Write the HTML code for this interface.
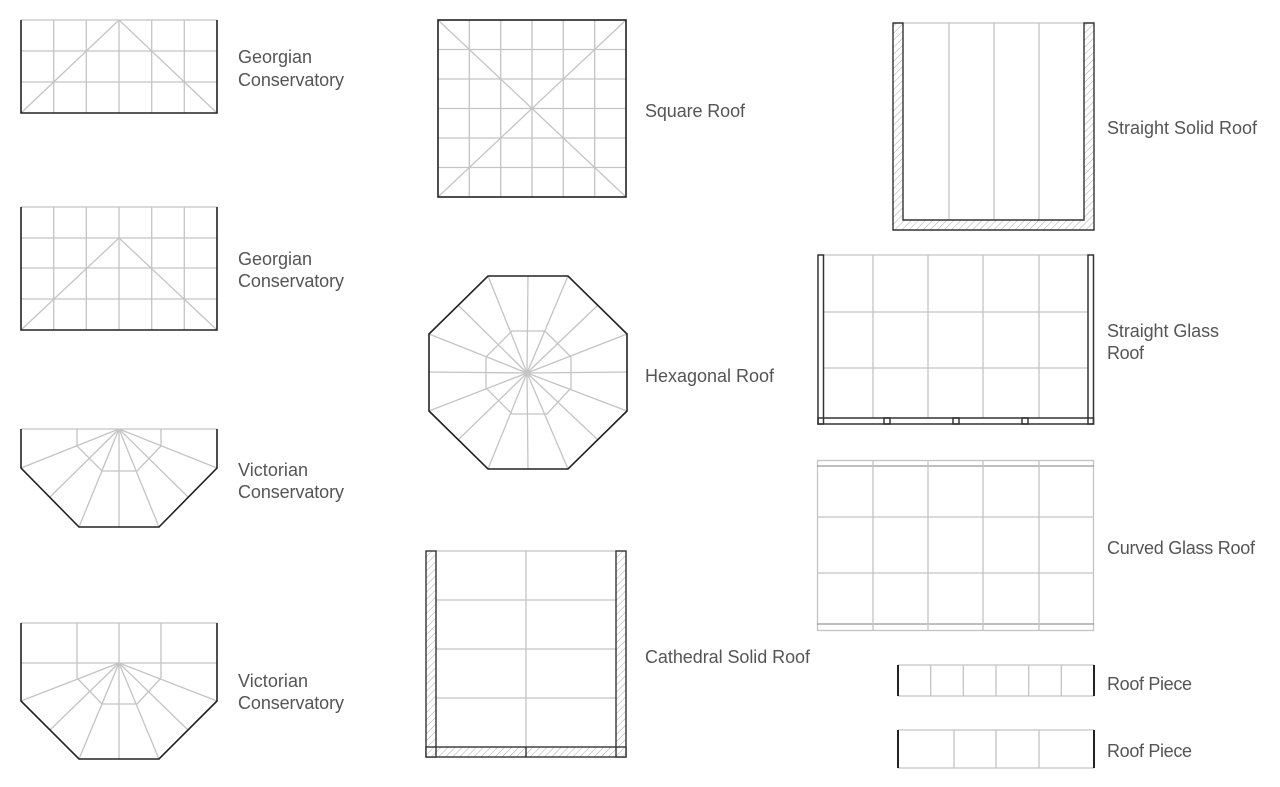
<!DOCTYPE html>
<html><head><meta charset="utf-8"><style>html,body{margin:0;padding:0;background:#fff}svg{display:block}</style></head>
<body>
<svg width="1280" height="787" viewBox="0 0 1280 787" xmlns="http://www.w3.org/2000/svg">
<defs>
<pattern id="h" width="5" height="5" patternUnits="userSpaceOnUse" patternTransform="rotate(45)">
<rect width="5" height="5" fill="#fff"/><line x1="0" y1="0" x2="0" y2="5" stroke="#aaa" stroke-width="1"/>
</pattern>
</defs>
<g fill="none" stroke="#c4c4c4" stroke-width="1.3">
<line x1="21" y1="20" x2="217" y2="20"/>
<line x1="21" y1="51" x2="217" y2="51"/><line x1="21" y1="82" x2="217" y2="82"/>
<line x1="53.7" y1="20" x2="53.7" y2="113"/><line x1="86.3" y1="20" x2="86.3" y2="113"/><line x1="119" y1="20" x2="119" y2="113"/><line x1="151.7" y1="20" x2="151.7" y2="113"/><line x1="184.3" y1="20" x2="184.3" y2="113"/>
<polyline points="21,113 119,20 217,113"/>
<line x1="21" y1="207" x2="217" y2="207"/>
<line x1="21" y1="238" x2="217" y2="238"/><line x1="21" y1="268" x2="217" y2="268"/><line x1="21" y1="299" x2="217" y2="299"/>
<line x1="53.7" y1="207" x2="53.7" y2="330"/><line x1="86.3" y1="207" x2="86.3" y2="330"/><line x1="119" y1="207" x2="119" y2="330"/><line x1="151.7" y1="207" x2="151.7" y2="330"/><line x1="184.3" y1="207" x2="184.3" y2="330"/>
<polyline points="21,330 119,238 217,330"/>
<line x1="21" y1="429" x2="217" y2="429"/>
<line x1="77" y1="429" x2="77" y2="446"/><line x1="161" y1="429" x2="161" y2="446"/>
<polyline points="77,446 102,471 137,471 161,446"/>
<line x1="119" y1="429" x2="21" y2="468"/><line x1="119" y1="429" x2="217" y2="468"/>
<line x1="119" y1="429" x2="50" y2="497"/><line x1="119" y1="429" x2="188" y2="497"/>
<line x1="119" y1="429" x2="79" y2="527"/><line x1="119" y1="429" x2="159" y2="527"/>
<line x1="119" y1="429" x2="119" y2="527"/>
<line x1="21" y1="623" x2="217" y2="623"/>
<line x1="21" y1="663" x2="217" y2="663"/>
<line x1="77" y1="623" x2="77" y2="678"/><line x1="161" y1="623" x2="161" y2="678"/>
<line x1="119" y1="623" x2="119" y2="759"/>
<polyline points="77,678 102,704 137,704 161,678"/>
<line x1="119" y1="663" x2="21" y2="701"/><line x1="119" y1="663" x2="217" y2="701"/>
<line x1="119" y1="663" x2="50" y2="730"/><line x1="119" y1="663" x2="188" y2="730"/>
<line x1="119" y1="663" x2="79" y2="759"/><line x1="119" y1="663" x2="159" y2="759"/>
<line x1="469.3" y1="20" x2="469.3" y2="197"/><line x1="500.7" y1="20" x2="500.7" y2="197"/><line x1="532" y1="20" x2="532" y2="197"/><line x1="563.3" y1="20" x2="563.3" y2="197"/><line x1="594.7" y1="20" x2="594.7" y2="197"/>
<line x1="438" y1="49.5" x2="626" y2="49.5"/><line x1="438" y1="79" x2="626" y2="79"/><line x1="438" y1="108.5" x2="626" y2="108.5"/><line x1="438" y1="138" x2="626" y2="138"/><line x1="438" y1="167.5" x2="626" y2="167.5"/>
<line x1="438" y1="20" x2="626" y2="197"/><line x1="626" y1="20" x2="438" y2="197"/>
<polygon points="512,331 545,331 571,357 571,388 547,414 512,414 486,388 486,357"/>
<line x1="527" y1="373" x2="488" y2="276"/><line x1="527" y1="373" x2="528" y2="276"/><line x1="527" y1="373" x2="568" y2="276"/>
<line x1="527" y1="373" x2="598" y2="305"/><line x1="527" y1="373" x2="627" y2="334"/><line x1="527" y1="373" x2="627" y2="372"/>
<line x1="527" y1="373" x2="627" y2="411"/><line x1="527" y1="373" x2="598" y2="440"/><line x1="527" y1="373" x2="568" y2="469"/>
<line x1="527" y1="373" x2="528" y2="469"/><line x1="527" y1="373" x2="488" y2="469"/><line x1="527" y1="373" x2="458" y2="440"/>
<line x1="527" y1="373" x2="429" y2="411"/><line x1="527" y1="373" x2="429" y2="372"/><line x1="527" y1="373" x2="429" y2="334"/><line x1="527" y1="373" x2="458" y2="305"/>
<line x1="436" y1="551" x2="616" y2="551"/>
<line x1="526" y1="551" x2="526" y2="747"/>
<line x1="436" y1="600" x2="616" y2="600"/><line x1="436" y1="649" x2="616" y2="649"/><line x1="436" y1="698" x2="616" y2="698"/>
<line x1="903" y1="23" x2="1084" y2="23"/>
<line x1="949" y1="23" x2="949" y2="220"/><line x1="994" y1="23" x2="994" y2="220"/><line x1="1039" y1="23" x2="1039" y2="220"/>
<line x1="823" y1="255" x2="1088" y2="255"/>
<line x1="873" y1="255" x2="873" y2="418"/><line x1="928" y1="255" x2="928" y2="418"/><line x1="983" y1="255" x2="983" y2="418"/><line x1="1039" y1="255" x2="1039" y2="418"/>
<line x1="823" y1="312" x2="1088" y2="312"/><line x1="823" y1="368" x2="1088" y2="368"/>
<rect x="817.5" y="460.5" width="276" height="170"/>
<line x1="817" y1="466" x2="1094" y2="466" stroke="#999"/><line x1="817" y1="624" x2="1094" y2="624" stroke="#999"/>
<line x1="873" y1="460" x2="873" y2="630"/><line x1="928" y1="460" x2="928" y2="630"/><line x1="983" y1="460" x2="983" y2="630"/><line x1="1039" y1="460" x2="1039" y2="630"/>
<line x1="817" y1="517" x2="1094" y2="517"/><line x1="817" y1="573" x2="1094" y2="573"/>
<line x1="898" y1="665" x2="1094" y2="665"/><line x1="898" y1="696" x2="1094" y2="696"/>
<line x1="930.7" y1="665" x2="930.7" y2="696"/><line x1="963.3" y1="665" x2="963.3" y2="696"/><line x1="996" y1="665" x2="996" y2="696"/><line x1="1028.7" y1="665" x2="1028.7" y2="696"/><line x1="1061.3" y1="665" x2="1061.3" y2="696"/>
<line x1="898" y1="730" x2="1094" y2="730"/><line x1="898" y1="768" x2="1094" y2="768"/>
<line x1="954" y1="730" x2="954" y2="768"/><line x1="996" y1="730" x2="996" y2="768"/><line x1="1039" y1="730" x2="1039" y2="768"/>
</g>
<g fill="none" stroke="#222" stroke-width="1.6">
<polyline points="21,20 21,113 217,113 217,20"/>
<polyline points="21,207 21,330 217,330 217,207"/>
<polyline points="21,429 21,468 79,527 159,527 217,468 217,429"/>
<polyline points="21,623 21,701 79,759 159,759 217,701 217,623"/>
<rect x="438" y="20" width="188" height="177"/>
<polygon points="488,276 568,276 627,334 627,411 568,469 488,469 429,411 429,334"/>
</g>
<g stroke="#333" stroke-width="1.4" fill="url(#h)">
<rect x="426" y="551" width="10" height="206"/>
<rect x="616" y="551" width="10" height="206"/>
<rect x="426" y="747" width="200" height="10"/>
<line x1="526" y1="747" x2="526" y2="757"/>
<line x1="436" y1="747" x2="436" y2="757"/><line x1="616" y1="747" x2="616" y2="757"/>
<polygon points="893,23 903,23 903,220 1084,220 1084,23 1094,23 1094,230 893,230"/>
</g>
<g stroke="#333" stroke-width="1.5" fill="none">
<rect x="818" y="255" width="5.5" height="169"/>
<rect x="1088" y="255" width="5.5" height="169"/>
<rect x="818" y="418" width="275.5" height="6"/>
<rect x="884" y="418" width="6" height="6"/><rect x="953" y="418" width="6" height="6"/><rect x="1022" y="418" width="6" height="6"/>
</g>
<g stroke="#222" stroke-width="2">
<line x1="898" y1="665" x2="898" y2="696"/><line x1="1094" y1="665" x2="1094" y2="696"/>
<line x1="898" y1="730" x2="898" y2="768"/><line x1="1094" y1="730" x2="1094" y2="768"/>
</g>
<g font-family="Liberation Sans, DejaVu Sans, sans-serif" font-size="18" fill="#555">
<text x="238" y="63" textLength="74">Georgian</text><text x="238" y="86" textLength="106">Conservatory</text>
<text x="238" y="265" textLength="74">Georgian</text><text x="238" y="287" textLength="106">Conservatory</text>
<text x="238" y="476" textLength="70">Victorian</text><text x="238" y="498" textLength="106">Conservatory</text>
<text x="238" y="687" textLength="70">Victorian</text><text x="238" y="709" textLength="106">Conservatory</text>
<text x="645" y="117" textLength="100">Square Roof</text>
<text x="645" y="382" textLength="129">Hexagonal Roof</text>
<text x="645" y="663" textLength="165">Cathedral Solid Roof</text>
<text x="1107" y="134" textLength="150">Straight Solid Roof</text>
<text x="1107" y="337" textLength="112">Straight Glass</text><text x="1107" y="359" textLength="37">Roof</text>
<text x="1107" y="554" textLength="148">Curved Glass Roof</text>
<text x="1107" y="690" textLength="85">Roof Piece</text>
<text x="1107" y="757" textLength="85">Roof Piece</text>
</g>
</svg>
</body></html>
